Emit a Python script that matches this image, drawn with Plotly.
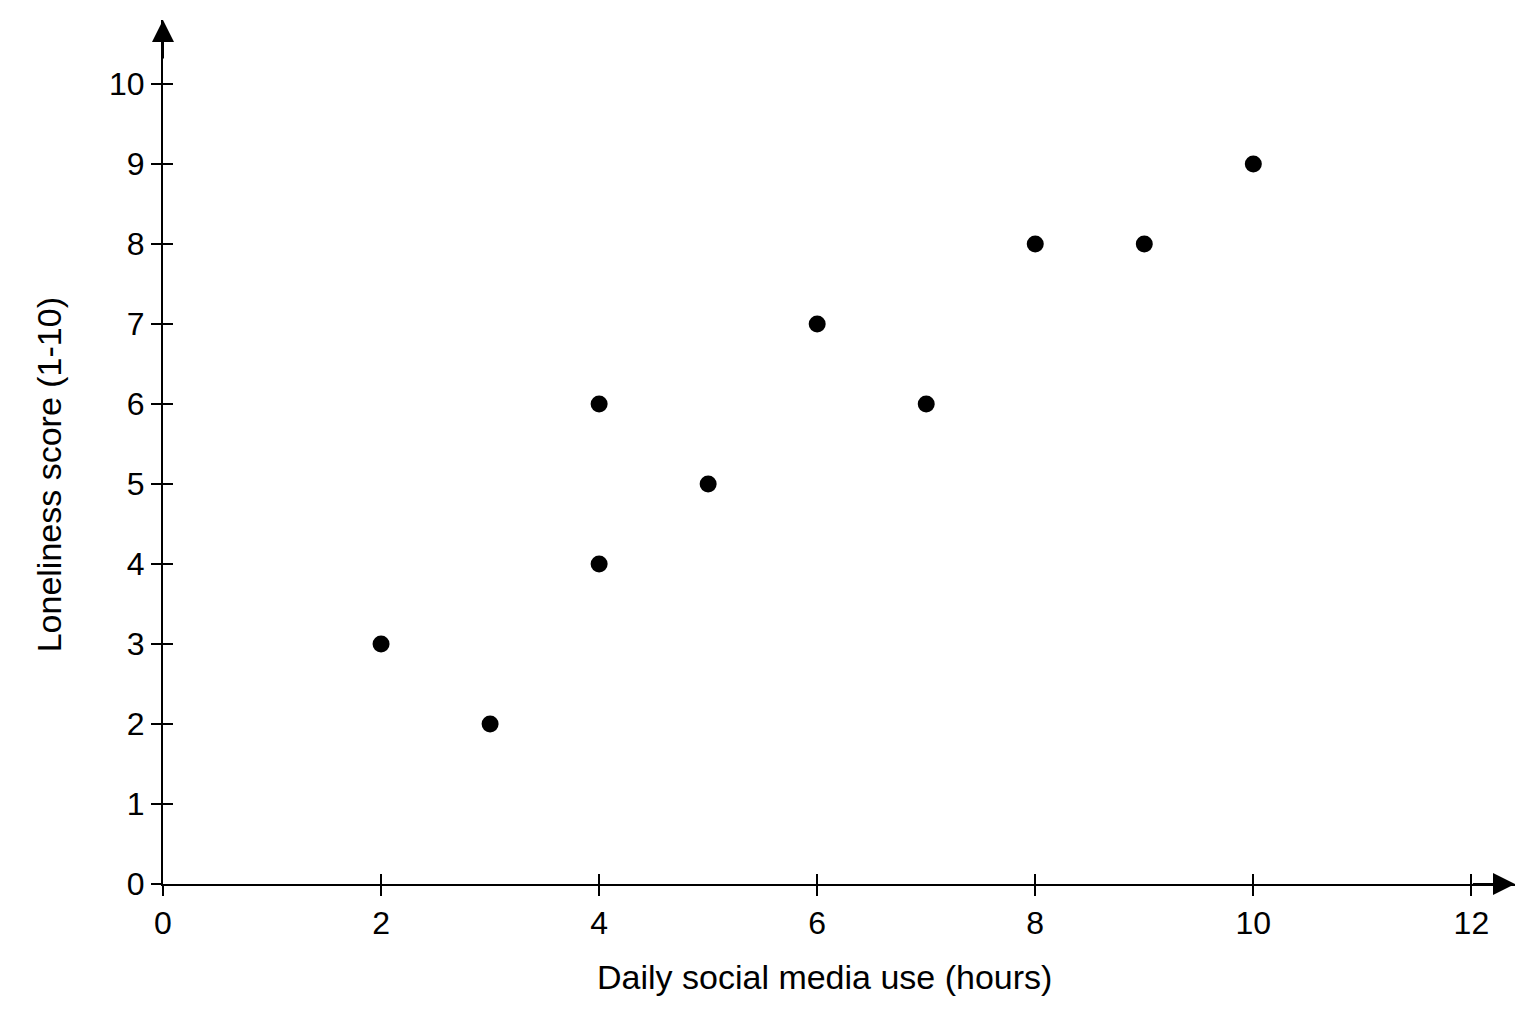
import plotly.graph_objects as go

# データ
hours = [2, 3, 4, 4, 5, 6, 7, 8, 9, 10]
loneliness = [3, 2, 6, 4, 5, 7, 6, 8, 8, 9]
x_ticks = [0, 2, 4, 6, 8, 10, 12]
y_ticks = [0, 1, 2, 3, 4, 5, 6, 7, 8, 9, 10]

X_MAX = 12.4
Y_MAX = 10.8
FONT = "Liberation Sans, Arial, sans-serif"

fig = go.Figure()
fig.add_trace(go.Scatter(
    x=hours, y=loneliness, mode="markers",
    marker=dict(color="black", size=17), showlegend=False,
))

axis_common = dict(
    showgrid=False, zeroline=False, showline=True, linecolor="black", linewidth=2,
    ticks="outside", ticklen=10, tickwidth=2, tickcolor="black",
    tickfont=dict(size=32, color="black", family=FONT),
)
fig.update_xaxes(range=[0, X_MAX], tickvals=x_ticks, ticktext=[str(v) for v in x_ticks], **axis_common)
fig.update_yaxes(range=[0, Y_MAX], tickvals=y_ticks, ticktext=[str(v) for v in y_ticks], **axis_common)

# 内側にも目盛りを描く (軸を貫通する目盛り)
fig.update_layout(
    xaxis2=dict(overlaying="x", anchor="y", side="bottom", range=[0, X_MAX], tickvals=x_ticks,
                showticklabels=False, ticks="inside", ticklen=10, tickwidth=2, tickcolor="black",
                showgrid=False, zeroline=False, showline=False),
    yaxis2=dict(overlaying="y", anchor="x", side="left", range=[0, Y_MAX], tickvals=y_ticks,
                showticklabels=False, ticks="inside", ticklen=10, tickwidth=2, tickcolor="black",
                showgrid=False, zeroline=False, showline=False),
)
fig.add_trace(go.Scatter(x=[None], y=[None], xaxis="x2", yaxis="y2", showlegend=False, hoverinfo="skip"))

# 軸の矢印
fig.add_annotation(x=X_MAX, y=0, ax=X_MAX - 0.4, ay=0, xref="x", yref="y", axref="x", ayref="y",
                   showarrow=True, arrowhead=2, arrowsize=2.2, arrowwidth=2, arrowcolor="black", text="")
fig.add_annotation(x=0, y=Y_MAX, ax=0, ay=Y_MAX - 0.5, xref="x", yref="y", axref="x", ayref="y",
                   showarrow=True, arrowhead=2, arrowsize=2.2, arrowwidth=2, arrowcolor="black", text="")

# 軸タイトル
title_font = dict(size=34, family=FONT, color="black")
fig.add_annotation(text="Daily social media use (hours)", xref="paper", yref="paper",
                   x=0.489, y=0, yshift=-114, showarrow=False, font=title_font)
fig.add_annotation(text="Loneliness score (1-10)", xref="paper", yref="paper", textangle=-90,
                   x=0, y=0.473, xshift=-135, showarrow=False, font=title_font)

# ページ余白 (8px) を差し引いたマージン
fig.update_layout(
    width=1536, height=1024,
    margin=dict(l=155, r=29, t=12, b=148),
    plot_bgcolor="white", paper_bgcolor="white",
    showlegend=False,
)

fig.write_html("out.html")
